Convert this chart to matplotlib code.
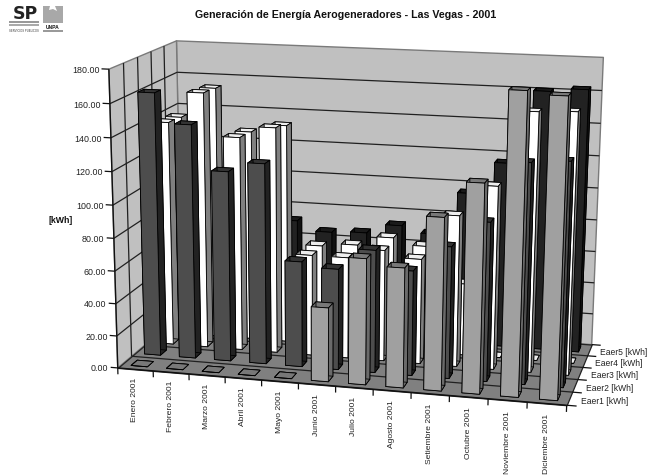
import numpy as np
import matplotlib
matplotlib.use('Agg')
import matplotlib.pyplot as plt
from matplotlib.patches import Rectangle, Polygon
from mpl_toolkits.mplot3d import Axes3D, proj3d
from mpl_toolkits.mplot3d.art3d import Poly3DCollection, Line3DCollection

plt.rcParams['font.family'] = ['Liberation Sans', 'DejaVu Sans']

# ---------- data ----------
months = ['Enero 2001', 'Febrero 2001', 'Marzo 2001', 'Abril 2001', 'Mayo 2001', 'Junio 2001',
          'Julio 2001', 'Agosto 2001', 'Setiembre 2001', 'Octubre 2001', 'Noviembre 2001', 'Diciembre 2001']
series_names = ['Eaer1 [kWh]', 'Eaer2 [kWh]', 'Eaer3 [kWh]', 'Eaer4 [kWh]', 'Eaer5 [kWh]']
eaer1 = [0, 0, 0, 0, 0, 45, 76, 72, 103, 124, 177, 175]
eaer2 = [162, 144, 117, 123, 65, 62, 75, 64, 80, 96, 132, 134]
eaer3 = [140, 159, 133, 140, 63, 63, 69, 65, 93, 112, 157, 158]
eaer4 = [139, 158, 132, 137, 63, 65, 71, 67, 45, 0, 0, 0]
eaer5 = [0, 0, 0, 72, 66, 67, 73, 69, 96, 116, 161, 163]
values = [eaer1, eaer2, eaer3, eaer4, eaer5]
zticks = list(range(0, 181, 20))
title = 'Generación de Energía Aerogeneradores - Las Vegas - 2001'

face_front = ['#a0a0a0', '#4d4d4d', '#ffffff', '#ffffff', '#222222']
face_side = ['#6a6a6a', '#222222', '#808080', '#808080', '#111111']
face_top = ['#787878', '#333333', '#eeeeee', '#eeeeee', '#1a1a1a']

W, H = 647, 477
fig = plt.figure(figsize=(W / 100, H / 100), dpi=100)
ax = fig.add_axes([0, 0, 1, 1], projection='3d', computed_zorder=False)
ax.set_axis_off()
ax.apply_aspect = lambda position=None: None

nx, ny, zmax = len(months), len(series_names), zticks[-1]

# camera calibrated on the corners of the chart box (world -> figure pixels)
world = np.array([[0, 0, 0], [nx, 0, 0], [nx, ny, 0], [0, ny, 0],
                  [0, 0, zmax], [nx, ny, zmax], [0, ny, zmax]], float)
pix = np.array([[119.5, 366], [566.7, 409], [592, 342.5], [180, 318],
                [107, 70.5], [603, 59], [178.5, 41]], float)
A, b = [], []
for (X, Y, Z), (u, v) in zip(world, pix):
    A.append([X, Y, Z, 1, 0, 0, 0, 0, -u * X, -u * Y, -u * Z]); b.append(u)
    A.append([0, 0, 0, 0, X, Y, Z, 1, -v * X, -v * Y, -v * Z]); b.append(v)
p = np.linalg.lstsq(np.array(A), np.array(b), rcond=None)[0]
M = np.array([[p[0], p[1], p[2], p[3]],
              [p[4], p[5], p[6], p[7]],
              [0, 1, 0, 0],
              [p[8], p[9], p[10], 1.0]])
ax.get_proj = lambda: M


def project(x, y, z):
    u, v, _ = proj3d.proj_transform(x, y, z, M)
    return float(u), float(v)


def add_lines(segs, color, lw, zorder):
    ax.add_collection3d(Line3DCollection(segs, colors=color, linewidths=lw, zorder=zorder))


# walls and floor
wall = '#c0c0c0'
floor = '#808080'
edge = '#7a7a7a'
ax.add_collection3d(Poly3DCollection([[(0, 0, 0), (0, ny, 0), (0, ny, zmax), (0, 0, zmax)],
                                      [(0, ny, 0), (nx, ny, 0), (nx, ny, zmax), (0, ny, zmax)]],
                                     facecolors=wall, edgecolors=edge, linewidths=1.0, zorder=1))
ax.add_collection3d(Poly3DCollection([[(0, 0, 0), (nx, 0, 0), (nx, ny, 0), (0, ny, 0)]],
                                     facecolors=floor, edgecolors='#222222', linewidths=0.9, zorder=2))
grid = []
for z in zticks[1:-1]:
    grid.append([(0, 0, z), (0, ny, z)])
    grid.append([(0, ny, z), (nx, ny, z)])
for y in range(1, ny):
    grid.append([(0, y, 0), (0, y, zmax)])
    grid.append([(0, y, 0), (nx, y, 0)])
add_lines(grid, '#202020', 0.9, 3)
add_lines([[(0, 0, 0), (0, 0, zmax)], [(0, 0, 0), (nx, 0, 0)]], '#101010', 1.0, 4)

# bars, drawn back to front
bw, bd = 0.46, 0.45
for s in range(ny - 1, -1, -1):
    for m in range(nx):
        # face order of bar3d: -z, +z, -y, +y, -x, +x
        colors = [face_side[s], face_top[s], face_front[s], face_side[s], face_side[s], face_side[s]]
        ax.bar3d(m + 0.5 - bw / 2, s + 0.5 - bd / 2, 0, bw, bd, values[s][m], color=colors, shade=False,
                 edgecolor='#000000', linewidth=0.6, zorder=10 + 100 * (ny - s) + m)

# ticks and tick labels
ticks = []
for z in zticks:
    ticks.append([(0, 0, z), (-0.2, 0, z)])
    u, v = project(-0.26, 0, z)
    ax.text2D(u, v + 0.8, f'{z:.2f}', ha='right', va='center', fontsize=6.4, color='#222222')
for m in range(nx + 1):
    ticks.append([(m, 0, 0), (m, 0, -4)])
for m, lab in enumerate(months):
    u, v = project(m + 0.5, 0, 0)
    ax.text2D(u - 0.5, v + 7.5 + 0.2 * m, lab, rotation=90, ha='center', va='top', fontsize=6.1, color='#222222')
for y in range(ny + 1):
    ticks.append([(nx, y, 0), (nx + 0.25, y, 0)])
for y, lab in enumerate(series_names):
    u, v = project(nx + 0.3, y + 0.5, 0)
    ax.text2D(u - 0.5, v + 0.5, lab, ha='left', va='center', fontsize=6.15, color='#222222')
add_lines(ticks, '#101010', 0.9, 5)

ax.viewLim.intervalx = (0, W)
ax.viewLim.intervaly = (H, 0)

fig.suptitle(title, x=345.5 / W, y=1 - 15 / H, ha='center', va='center', fontsize=7.65, fontweight='bold', color='#111111')
fig.text(61 / W, 1 - 221 / H, '[kWh]', ha='center', va='center', fontsize=6.3, fontweight='bold', color='#111111')

# logo
lg = fig.add_axes([0, 1 - 40 / H, 70 / W, 40 / H])
lg.set_xlim(0, 70); lg.set_ylim(40, 0); lg.set_axis_off()
lg.text(25, 14, 'SP', fontsize=12.5, fontweight='bold', ha='center', va='center', family='DejaVu Sans', color='#222222')
lg.add_patch(Rectangle((9, 22), 30, 1.6, color='#999999', lw=0))
lg.add_patch(Rectangle((9, 25), 30, 1.6, color='#aaaaaa', lw=0))
lg.text(24, 30.5, 'SERVICIOS PUBLICOS', fontsize=2.0, ha='center', va='center', color='#333333')
lg.add_patch(Polygon([(43, 7), (63, 7), (63, 24), (43, 24)], color='#a8a8a8', lw=0))
lg.add_patch(Polygon([(50, 7), (55, 7), (57, 12), (53, 10), (49, 11)], color='#ffffff', lw=0))
lg.text(53, 27.3, 'UNPA', fontsize=3.6, fontweight='bold', ha='center', va='center', color='#111111')
lg.add_patch(Rectangle((43, 30.5), 20, 2.2, color='#9a9a9a', lw=0))

fig.savefig('out.png', dpi=100)
